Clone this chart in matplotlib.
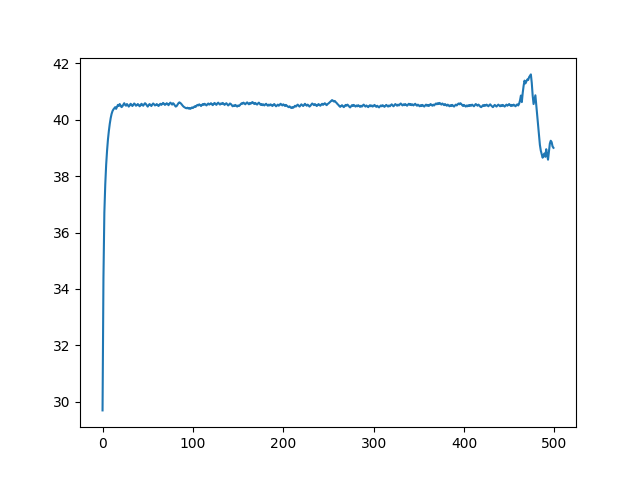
import numpy as np
import matplotlib
matplotlib.use("Agg")
import matplotlib.pyplot as plt

# values, one per step (x = 0..499)
values = [
    29.70, 34.40, 36.70, 37.70, 38.40, 38.90, 39.30, 39.60, 39.85, 40.05, 40.20, 40.30, 40.36, 40.40, 40.44, 40.38, 40.45, 40.52, 40.48, 40.55,
    40.50, 40.44, 40.47, 40.53, 40.58, 40.52, 40.49, 40.55, 40.51, 40.46, 40.50, 40.56, 40.53, 40.48, 40.52, 40.57, 40.54, 40.49, 40.51, 40.55,
    40.52, 40.47, 40.50, 40.56, 40.53, 40.49, 40.54, 40.58, 40.55, 40.50, 40.46, 40.51, 40.55, 40.52, 40.48, 40.53, 40.57, 40.54, 40.50, 40.52,
    40.55, 40.51, 40.48, 40.53, 40.56, 40.52, 40.55, 40.59, 40.56, 40.52, 40.54, 40.58, 40.55, 40.51, 40.56, 40.60, 40.57, 40.53, 40.58, 40.55,
    40.50, 40.46, 40.48, 40.53, 40.58, 40.61, 40.59, 40.56, 40.52, 40.48, 40.45, 40.43, 40.41, 40.40, 40.42, 40.39, 40.41, 40.38, 40.40, 40.43,
    40.41, 40.44, 40.47, 40.45, 40.49, 40.52, 40.50, 40.54, 40.51, 40.48, 40.52, 40.55, 40.52, 40.56, 40.53, 40.50, 40.54, 40.57, 40.53, 40.55,
    40.58, 40.54, 40.51, 40.56, 40.59, 40.55, 40.52, 40.57, 40.60, 40.56, 40.53, 40.57, 40.55, 40.59, 40.56, 40.52, 40.55, 40.58, 40.54, 40.50,
    40.53, 40.57, 40.55, 40.51, 40.47, 40.50, 40.48, 40.52, 40.49, 40.46, 40.50, 40.48, 40.51, 40.55, 40.58, 40.56, 40.60, 40.57, 40.54, 40.58,
    40.61, 40.57, 40.54, 40.59, 40.56, 40.60, 40.62, 40.58, 40.55, 40.59, 40.56, 40.53, 40.57, 40.60, 40.56, 40.52, 40.55, 40.51, 40.54, 40.50,
    40.53, 40.56, 40.52, 40.49, 40.53, 40.50, 40.54, 40.51, 40.48, 40.52, 40.55, 40.51, 40.47, 40.50, 40.53, 40.49, 40.52, 40.56, 40.53, 40.50,
    40.54, 40.51, 40.48, 40.52, 40.49, 40.46, 40.44, 40.47, 40.43, 40.41, 40.44, 40.42, 40.45, 40.49, 40.46, 40.50, 40.53, 40.49, 40.46, 40.50,
    40.54, 40.51, 40.48, 40.52, 40.56, 40.52, 40.49, 40.53, 40.50, 40.46, 40.49, 40.53, 40.57, 40.54, 40.51, 40.55, 40.52, 40.48, 40.51, 40.55,
    40.52, 40.49, 40.53, 40.56, 40.52, 40.55, 40.58, 40.54, 40.51, 40.55, 40.57, 40.60, 40.63, 40.66, 40.69, 40.67, 40.64, 40.66, 40.62, 40.59,
    40.55, 40.52, 40.48, 40.45, 40.48, 40.51, 40.47, 40.44, 40.48, 40.52, 40.49, 40.53, 40.50, 40.46, 40.43, 40.47, 40.51, 40.48, 40.52, 40.49,
    40.46, 40.50, 40.47, 40.51, 40.48, 40.45, 40.49, 40.46, 40.50, 40.53, 40.49, 40.46, 40.50, 40.47, 40.44, 40.48, 40.51, 40.47, 40.50, 40.46,
    40.49, 40.52, 40.48, 40.45, 40.49, 40.46, 40.43, 40.47, 40.50, 40.47, 40.51, 40.48, 40.45, 40.49, 40.52, 40.49, 40.46, 40.50, 40.47, 40.51,
    40.54, 40.50, 40.47, 40.51, 40.55, 40.52, 40.49, 40.53, 40.50, 40.54, 40.57, 40.53, 40.50, 40.54, 40.51, 40.55, 40.52, 40.49, 40.53, 40.56,
    40.52, 40.55, 40.51, 40.54, 40.50, 40.53, 40.56, 40.52, 40.49, 40.53, 40.50, 40.47, 40.51, 40.48, 40.52, 40.49, 40.46, 40.50, 40.53, 40.49,
    40.52, 40.48, 40.51, 40.55, 40.52, 40.49, 40.53, 40.50, 40.54, 40.57, 40.54, 40.58, 40.55, 40.59, 40.56, 40.53, 40.57, 40.54, 40.51, 40.55,
    40.52, 40.49, 40.53, 40.50, 40.47, 40.51, 40.48, 40.52, 40.49, 40.46, 40.50, 40.53, 40.50, 40.54, 40.57, 40.54, 40.58, 40.55, 40.51, 40.48,
    40.52, 40.49, 40.46, 40.50, 40.47, 40.51, 40.48, 40.52, 40.49, 40.53, 40.50, 40.47, 40.51, 40.55, 40.52, 40.49, 40.53, 40.50, 40.46, 40.44,
    40.47, 40.51, 40.48, 40.52, 40.49, 40.53, 40.50, 40.47, 40.51, 40.54, 40.50, 40.47, 40.44, 40.48, 40.52, 40.49, 40.46, 40.50, 40.53, 40.50,
    40.47, 40.51, 40.48, 40.52, 40.49, 40.46, 40.50, 40.53, 40.49, 40.52, 40.55, 40.51, 40.48, 40.52, 40.49, 40.53, 40.50, 40.47, 40.51, 40.54,
    40.50, 40.56, 40.68, 40.85, 40.62, 40.95, 41.20, 41.38, 41.28, 41.35, 41.42, 41.40, 41.50, 41.55, 41.60, 41.30, 40.85, 40.55, 40.70, 40.86,
    40.50, 40.10, 39.75, 39.40, 39.10, 38.90, 38.78, 38.65, 38.72, 38.80, 38.68, 38.95, 38.75, 38.58, 38.85, 39.15, 39.25, 39.20, 39.05, 39.00,
]

steps = np.arange(len(values))

fig, ax = plt.subplots(figsize=(6.4, 4.8), dpi=100)
ax.plot(steps, values)

fig.savefig("out.png")
